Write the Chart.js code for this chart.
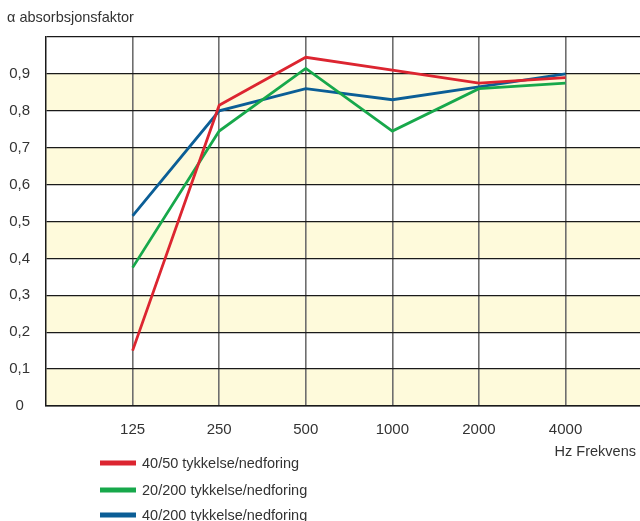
<!DOCTYPE html>
<html>
<head>
<meta charset="utf-8">
<script src="https://cdn.jsdelivr.net/npm/chart.js@4/dist/chart.umd.min.js"></script>
<style>
  html, body { margin: 0; padding: 0; background: #fff; }
  #wrap { width: 640px; height: 521px; position: relative; }
</style>
</head>
<body>
<div id="wrap"><canvas id="absorbChart" width="640" height="521"></canvas></div>
<script>
// ==================== DATA ====================

const frequencies = ['125', '250', '500', '1000', '2000', '4000'];
const yTicks = [0, 0.1, 0.2, 0.3, 0.4, 0.5, 0.6, 0.7, 0.8, 0.9, 1.0];

const series4050 = [0.15, 0.815, 0.945, 0.91, 0.875, 0.89];
const series20200 = [0.375, 0.745, 0.915, 0.745, 0.86, 0.875];
const series40200 = [0.515, 0.80, 0.86, 0.83, 0.865, 0.90];

const seriesLabels = ['40/50 tykkelse/nedforing', '20/200 tykkelse/nedforing', '40/200 tykkelse/nedforing'];

const yTitle = '\u03B1 absorbsjonsfaktor';
const xTitle = 'Hz Frekvens';

const FONT = '"Liberation Sans", Arial, sans-serif';
const TEXT_COLOR = '#333';

function toPoints(values) {
    return values.map((v, i) => ({ x: i + 1, y: v }));
}

// Alternating yellow bands behind the grid
const bandPlugin = {
    id: 'bands',
    beforeDraw(chart) {
        const { ctx, chartArea, scales } = chart;
        ctx.save();
        ctx.fillStyle = '#fefadb';
        for (let i = 0; i < yTicks.length - 1; i += 2) {
            const top = scales.y.getPixelForValue(yTicks[i + 1]);
            const bottom = scales.y.getPixelForValue(yTicks[i]);
            ctx.fillRect(chartArea.left, top, chartArea.right - chartArea.left, bottom - top);
        }
        ctx.restore();
    }
};

// Title, x-axis caption and the vertical legend below the chart
const labelsPlugin = {
    id: 'labels',
    afterDraw(chart) {
        const { ctx } = chart;
        ctx.save();
        ctx.fillStyle = TEXT_COLOR;
        ctx.textBaseline = 'middle';
        ctx.font = '14.5px ' + FONT;
        ctx.textAlign = 'left';
        ctx.fillText(yTitle, 7, 18);

        ctx.textAlign = 'right';
        ctx.fillText(xTitle, 636, 452);

        ctx.textAlign = 'left';
        const rows = [463, 490, 515];
        chart.data.datasets.forEach((ds, i) => {
            ctx.fillStyle = ds.borderColor;
            ctx.fillRect(100, rows[i] - 2.5, 36, 5);
            ctx.fillStyle = TEXT_COLOR;
            ctx.fillText(ds.label, 142, rows[i] + 1);
        });
        ctx.restore();
    }
};

// ==================== CHART ====================

const ctx = document.getElementById('absorbChart');

new Chart(ctx, {
    type: 'line',
    data: {
        datasets: [
            { label: seriesLabels[0], data: toPoints(series4050), borderColor: '#dc2530' },
            { label: seriesLabels[1], data: toPoints(series20200), borderColor: '#17a84b' },
            { label: seriesLabels[2], data: toPoints(series40200), borderColor: '#0b5e96' }
        ].map(ds => Object.assign(ds, {
            borderWidth: 2.8,
            pointRadius: 0,
            tension: 0,
            fill: false
        }))
    },
    options: {
        responsive: false,
        animation: false,
        layout: { padding: { left: 0, right: 0, top: 37, bottom: 0 } },
        plugins: {
            legend: { display: false },
            tooltip: { enabled: false }
        },
        scales: {
            x: {
                type: 'linear',
                min: 0,
                max: 6.86,
                afterBuildTicks(scale) {
                    scale.ticks = frequencies.map((_, i) => ({ value: i + 1 }));
                },
                afterFit(scale) {
                    scale.height = 115;
                },
                ticks: {
                    autoSkip: false,
                    maxRotation: 0,
                    padding: 15,
                    color: TEXT_COLOR,
                    font: { family: FONT, size: 15 },
                    callback: (value) => frequencies[value - 1] || ''
                },
                grid: {
                    color: '#6e6e6e',
                    lineWidth: 1.6,
                    drawTicks: false
                },
                border: { color: '#1a1a1a', width: 1.5 }
            },
            y: {
                min: 0,
                max: 1.0,
                afterBuildTicks(scale) {
                    scale.ticks = yTicks.map(v => ({ value: v }));
                },
                afterFit(scale) {
                    scale.width = 46;
                },
                ticks: {
                    padding: 16,
                    crossAlign: 'center',
                    color: TEXT_COLOR,
                    font: { family: FONT, size: 15 },
                    callback: (value) => {
                        if (value >= 1) return '';
                        if (value === 0) return '0';
                        return value.toFixed(1).replace('.', ',');
                    }
                },
                grid: {
                    color: '#1a1a1a',
                    lineWidth: 1.3,
                    drawTicks: false
                },
                border: { color: '#1a1a1a', width: 1.5 }
            }
        }
    },
    plugins: [bandPlugin, labelsPlugin]
});
</script>
</body>
</html>
